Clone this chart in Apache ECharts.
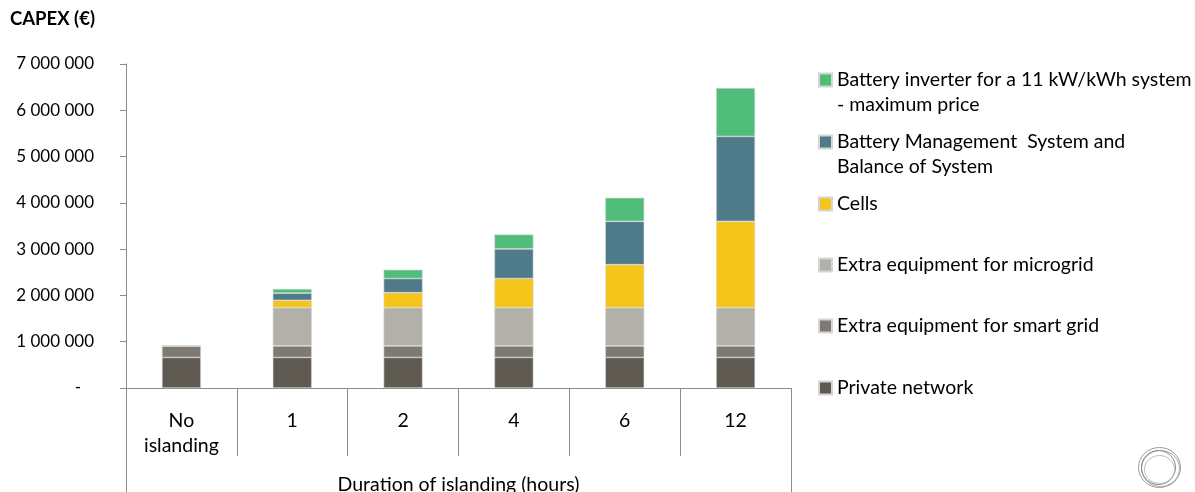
<!DOCTYPE html>
<html>
<head>
<meta charset="utf-8">
<script src="https://cdn.jsdelivr.net/npm/echarts@6/dist/echarts.min.js"></script>
<style>
  html, body { margin: 0; padding: 0; background: #fff; }
  #chart { width: 1195px; height: 492px; }
</style>
</head>
<body>
<div id="chart"></div>
<script>
// categories (duration of islanding)
const categories = ['No\nislanding', '1', '2', '4', '6', '12'];

// stacked segments, bottom to top (EUR)
const privateNetwork = [660000, 660000, 660000, 660000, 660000, 660000];
const smartGrid = [250000, 250000, 250000, 250000, 250000, 250000];
const microgrid = [0, 825000, 825000, 825000, 825000, 825000];
const cells = [0, 160000, 325000, 630000, 930000, 1865000];
const bms = [0, 155000, 305000, 640000, 935000, 1835000];
const inverter = [0, 90000, 190000, 310000, 510000, 1045000];

const yTicks = [0, 1000000, 2000000, 3000000, 4000000, 5000000, 6000000, 7000000];

const FONT = 'Lato';
const AXIS_COLOR = '#8c8c8c';

const seriesDefs = [
    { name: 'Private network', data: privateNetwork, color: '#5e5a52' },
    { name: 'Extra equipment for smart grid', data: smartGrid, color: '#7e7a72' },
    { name: 'Extra equipment for microgrid', data: microgrid, color: '#b3b0aa' },
    { name: 'Cells', data: cells, color: '#f5c51c' },
    { name: 'Battery Management  System and\nBalance of System', data: bms, color: '#4e7a8a' },
    { name: 'Battery inverter for a 11 kW/kWh system\n- maximum price', data: inverter, color: '#50be7a' }
];

// legend rows, top to bottom, with the centre of each icon
const legendRows = [
    { name: seriesDefs[5].name, y: 80 },
    { name: seriesDefs[4].name, y: 142 },
    { name: seriesDefs[3].name, y: 204 },
    { name: seriesDefs[2].name, y: 265 },
    { name: seriesDefs[1].name, y: 326 },
    { name: seriesDefs[0].name, y: 388 }
];

function fmt(v) {
    if (v === 0) return '-\u2002 ';
    return String(v).replace(/\B(?=(\d{3})+(?!\d))/g, ' ');
}

const chart = echarts.init(document.getElementById('chart'));

chart.setOption({
    animation: false,
    textStyle: { fontFamily: FONT },
    title: {
        text: 'CAPEX (€)',
        left: 5,
        top: 5,
        textStyle: { fontFamily: FONT, fontSize: 18.5, fontWeight: 'bold', color: '#000' }
    },
    legend: legendRows.map(r => {
        const twoLines = r.name.indexOf('\n') >= 0;
        return {
            orient: 'vertical',
            left: 818,
            top: twoLines ? r.y - 37.5 : r.y - 12.5,
            padding: 0,
            itemWidth: 13,
            itemHeight: 13,
            icon: 'rect',
            selectedMode: false,
            data: [r.name],
            // blank first line pushes a two-line label down so the icon sits on its first line
            formatter: name => (twoLines ? ' \n' + name : name),
            textStyle: { fontFamily: FONT, fontSize: 19.5, color: '#000', lineHeight: 25 }
        };
    }),
    grid: { left: 126, right: 404, top: 64, bottom: 104, outerBoundsMode: 'none', containLabel: false },
    xAxis: [
        {
            type: 'category',
            data: categories,
            name: 'Duration of islanding (hours)',
            nameLocation: 'middle',
            nameGap: 87,
            nameTextStyle: { fontFamily: FONT, fontSize: 19.5, color: '#000' },
            axisLine: { lineStyle: { color: AXIS_COLOR, width: 1 } },
            axisTick: { show: true, length: 68, lineStyle: { color: AXIS_COLOR } },
            axisLabel: { fontFamily: FONT, fontSize: 19.5, color: '#000', margin: 20, lineHeight: 25 }
        },
        {
            type: 'category',
            data: categories,
            position: 'bottom',
            axisLine: { show: false },
            axisTick: {
                show: true,
                length: 110,
                interval: (i) => i === 0,
                lineStyle: { color: AXIS_COLOR }
            },
            axisLabel: { show: false }
        }
    ],
    yAxis: {
        type: 'value',
        min: yTicks[0],
        max: yTicks[yTicks.length - 1],
        interval: 1000000,
        splitLine: { show: false },
        axisLine: { show: true, lineStyle: { color: AXIS_COLOR, width: 1 } },
        axisTick: { show: true, length: 6, lineStyle: { color: AXIS_COLOR } },
        axisLabel: {
            fontFamily: FONT,
            fontSize: 17,
            color: '#000',
            margin: 32,
            formatter: fmt
        }
    },
    series: seriesDefs.map(s => ({
        name: s.name,
        type: 'bar',
        stack: 'capex',
        barWidth: 39,
        data: s.data,
        itemStyle: { color: s.color, borderColor: '#d6d6d6', borderWidth: 0.6 }
    })),
    graphic: [
        {
            type: 'group',
            right: 12,
            bottom: 2,
            children: [
                { type: 'ellipse', shape: { cx: 22, cy: 22, rx: 21, ry: 20 }, style: { fill: 'none', stroke: '#999', lineWidth: 1 } },
                { type: 'ellipse', shape: { cx: 23, cy: 23, rx: 19, ry: 18 }, style: { fill: 'none', stroke: '#aaa', lineWidth: 1 } },
                { type: 'ellipse', shape: { cx: 21, cy: 22, rx: 17, ry: 17 }, style: { fill: 'none', stroke: '#888', lineWidth: 1 } },
                { type: 'ellipse', shape: { cx: 22, cy: 24, rx: 15, ry: 14 }, style: { fill: 'none', stroke: '#bbb', lineWidth: 1 } }
            ]
        }
    ]
});
</script>
</body>
</html>
